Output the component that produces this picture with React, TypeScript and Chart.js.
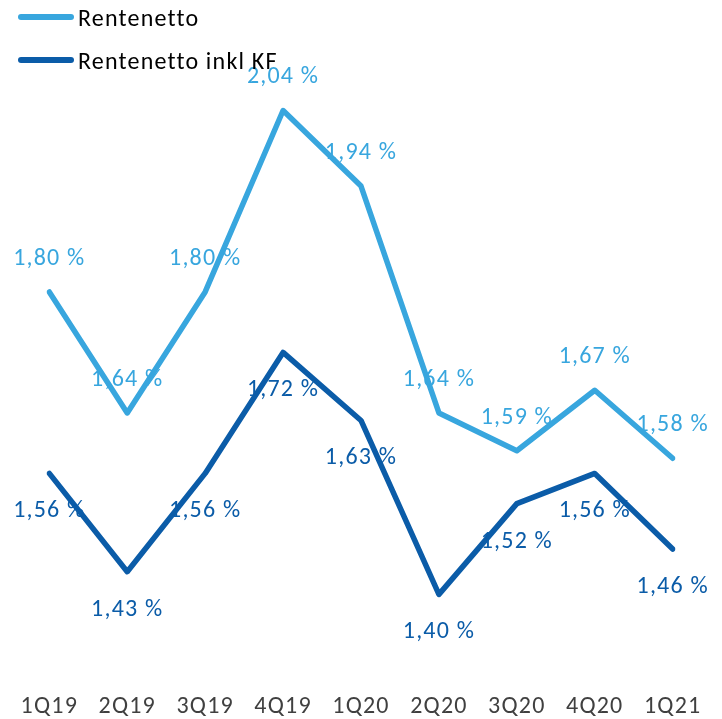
import React, { useEffect, useRef } from "react";
import { Chart, registerables } from "chart.js";

Chart.register(...registerables);

const categories = ["1Q19", "2Q19", "3Q19", "4Q19", "1Q20", "2Q20", "3Q20", "4Q20", "1Q21"];
const rentenetto = [1.8, 1.64, 1.8, 2.04, 1.94, 1.64, 1.59, 1.67, 1.58];
const rentenettoInklKF = [1.56, 1.43, 1.56, 1.72, 1.63, 1.4, 1.52, 1.56, 1.46];
const seriesNames = ["Rentenetto", "Rentenetto inkl KF"];
const colors = ["#38A6DE", "#0B5CA8"];

const FONT = "Carlito, Calibri, Lato, 'Open Sans', sans-serif";

const fmt = (v: number) => v.toFixed(2).replace(".", ",") + " %";

const spacingPlugin = {
  id: "spacing",
  beforeDraw(chart: any) {
    try { chart.ctx.letterSpacing = "1.2px"; } catch (e) {}
  },
};

const labelPlugin = {
  id: "valueLabels",
  afterDatasetsDraw(chart: any) {
    const ctx = chart.ctx;
    ctx.save();
    ctx.font = `24px ${FONT}`;
    try { (ctx as any).letterSpacing = "1.2px"; } catch (e) {}
    ctx.textAlign = "center";
    ctx.textBaseline = "middle";
    chart.data.datasets.forEach((ds: any, i: number) => {
      const meta = chart.getDatasetMeta(i);
      ctx.fillStyle = ds.borderColor;
      meta.data.forEach((pt: any, j: number) => {
        const off = i === 0 ? -33 : 38;
        ctx.fillText(fmt(ds.data[j]), pt.x, pt.y + off);
      });
    });
    ctx.restore();
  },
};

export default function App() {
  const ref = useRef<HTMLCanvasElement>(null);
  useEffect(() => {
    if (!ref.current) return;
    const chart = new Chart(ref.current, {
      type: "line",
      data: {
        labels: categories,
        datasets: [
          {
            label: seriesNames[0],
            data: rentenetto,
            borderColor: colors[0],
            backgroundColor: colors[0],
            borderWidth: 5.5,
            pointRadius: 0,
            tension: 0,
            borderCapStyle: "round",
            borderJoinStyle: "round",
          },
          {
            label: seriesNames[1],
            data: rentenettoInklKF,
            borderColor: colors[1],
            backgroundColor: colors[1],
            borderWidth: 5.5,
            pointRadius: 0,
            tension: 0,
            borderCapStyle: "round",
            borderJoinStyle: "round",
          },
        ],
      },
      options: {
        animation: false,
        responsive: false,
        maintainAspectRatio: false,
        layout: { padding: { top: 50, bottom: 2, left: 47, right: 38 } },
        plugins: { legend: { display: false }, tooltip: { enabled: false } },
        scales: {
          x: {
            offset: false,
            grid: { display: false, drawTicks: false },
            border: { display: false },
            ticks: { padding: 23, color: "#404040", maxRotation: 0, autoSkip: false, font: { size: 24, family: FONT } },
            afterFit: (s: any) => {
              s.height = 47;
            },
          },
          y: { display: false, min: 1.3, max: 2.12 },
        },
      },
      plugins: [spacingPlugin, labelPlugin],
    });
    return () => chart.destroy();
  }, []);

  return (
    <div style={{ position: "absolute", left: 0, top: 0, width: 722, height: 719, background: "#fff" }}>
      <canvas ref={ref} width={722} height={719} style={{ position: "absolute", left: 0, top: 0 }} />
      {seriesNames.map((n, i) => (
        <div
          key={n}
          style={{
            position: "absolute",
            left: 18,
            top: i === 0 ? 3 : 46,
            display: "flex",
            alignItems: "center",
            fontFamily: FONT,
            fontSize: 24,
            letterSpacing: "1.2px",
            color: "#000",
            height: 28,
            whiteSpace: "nowrap",
          }}
        >
          <span style={{ display: "inline-block", width: 56, height: 6, borderRadius: 3, background: colors[i], marginRight: 4 }} />
          <span>{n}</span>
        </div>
      ))}
    </div>
  );
}
